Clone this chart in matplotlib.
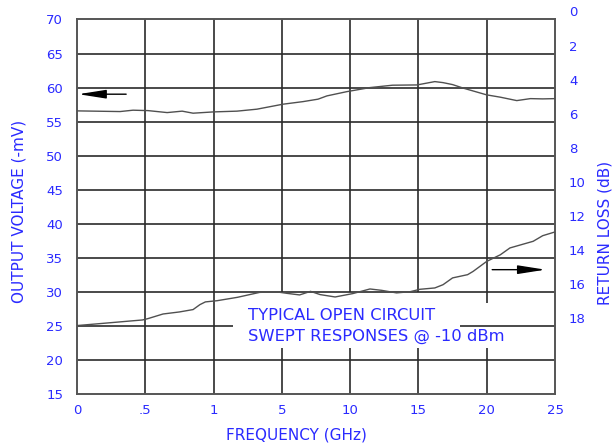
"""
Typical open circuit swept response: output voltage and return loss vs frequency.
Frequency axis is piecewise (0-1 GHz stretched), so a function scale maps GHz to slots.
"""
import numpy as np
import matplotlib.pyplot as plt

BLUE = "#2a2aff"
GRID = "#2b2b2b"
CURVE = "#505050"

# axis breakpoints (GHz) and their labels
freq_ticks = [0, 0.5, 1, 5, 10, 15, 20, 25]
freq_labels = ["0", ".5", "1", "5", "10", "15", "20", "25"]
volt_ticks = [15, 20, 25, 30, 35, 40, 45, 50, 55, 60, 65, 70]
rl_ticks = [0, 2, 4, 6, 8, 10, 12, 14, 16, 18]

# output voltage (-mV), left axis
volt_freq = [0, 0.315, 0.41, 0.52, 0.66, 0.77, 0.85, 1.0, 2.37, 3.54, 5.08, 6.55,
             7.65, 8.3, 9.77, 11.45, 13.1, 14.9, 16.2, 16.8, 17.5, 18.3, 20.0,
             21.0, 22.2, 23.2, 24.1, 25]
volt_mv = [56.58, 56.48, 56.68, 56.62, 56.33, 56.54, 56.24, 56.43, 56.54, 56.83,
           57.56, 57.94, 58.30, 58.78, 59.41, 60.00, 60.35, 60.39, 60.88, 60.73,
           60.44, 59.91, 58.93, 58.59, 58.09, 58.38, 58.34, 58.38]

# return loss (dB), right axis
rl_freq = [0, 0.19, 0.48, 0.52, 0.63, 0.75, 0.85, 0.90, 0.94, 1.2, 2.4, 3.7, 4.7,
           5.4, 6.3, 7.1, 7.8, 8.9, 10.2, 11.45, 12.3, 13.4, 14.4, 15.1, 16.2,
           16.8, 17.5, 18.6, 19.0, 20.0, 21.0, 21.7, 22.7, 23.4, 24.1, 25]
rl_db = [17.98, 17.85, 17.65, 17.57, 17.30, 17.18, 17.04, 16.75, 16.59, 16.52,
         16.32, 16.03, 16.00, 16.09, 16.18, 15.97, 16.16, 16.30, 16.10, 15.83,
         15.91, 16.06, 15.99, 15.85, 15.77, 15.58, 15.18, 14.99, 14.80, 14.21,
         13.82, 13.42, 13.19, 13.03, 12.70, 12.48]

slots = np.arange(len(freq_ticks))


def fwd(f):
    return np.interp(f, freq_ticks, slots)


def inv(p):
    return np.interp(p, slots, freq_ticks)


plt.rcParams["font.family"] = "DejaVu Sans"
fig = plt.figure(figsize=(6.13, 4.44), dpi=100)
ax = fig.add_axes([77 / 613, 50 / 444, 478 / 613, 374.5 / 444])
ax.set_xscale("function", functions=(fwd, inv))
ax.set_xlim(0, 25)
ax.set_ylim(15, 70)

# grid, with a gap behind the note text
box_lo, box_hi = 21.75, 29.95
for f in freq_ticks[1:-1]:
    if f in (5, 10, 15):
        ax.vlines(f, 15, box_lo, color=GRID, lw=1.2, zorder=1)
        ax.vlines(f, box_hi, 70, color=GRID, lw=1.2, zorder=1)
    elif f == 20:
        ax.vlines(f, 15, box_lo, color=GRID, lw=1.2, zorder=1)
        ax.vlines(f, 28.4, 70, color=GRID, lw=1.2, zorder=1)
    else:
        ax.vlines(f, 15, 70, color=GRID, lw=1.2, zorder=1)
for v in volt_ticks[1:-1]:
    if v == 25:
        ax.hlines(v, 0, 2.12, color=GRID, lw=1.2, zorder=1)
        ax.hlines(v, 18.05, 25, color=GRID, lw=1.2, zorder=1)
    else:
        ax.hlines(v, 0, 25, color=GRID, lw=1.2, zorder=1)

ax.plot(volt_freq, volt_mv, color=CURVE, lw=1.0, zorder=3)

ax.set_xticks(freq_ticks)
ax.set_xticklabels(freq_labels)
ax.set_yticks(volt_ticks)
ax.tick_params(axis="both", length=0, labelsize=9.5, colors=BLUE)
ax.tick_params(axis="y", pad=10)
ax.tick_params(axis="x", pad=7)
for s in ax.spines.values():
    s.set_color("#555555")
    s.set_linewidth(1.4)
ax.patch.set_alpha(0)

ax2 = ax.twinx()
ax2.set_ylim(22, 0)
ax2.plot(rl_freq, rl_db, color=CURVE, lw=1.0, zorder=3)
ax2.set_yticks(rl_ticks)
ax2.tick_params(axis="y", length=0, labelsize=9.5, colors=BLUE, pad=10)
for lbl in ax2.get_yticklabels():
    lbl.set_va("bottom")
for s in ax2.spines.values():
    s.set_visible(False)

# direction arrows
arrow = dict(arrowstyle="-|>,head_length=1.4,head_width=0.22", color="black",
             lw=1.0, shrinkA=0, shrinkB=0, mutation_scale=12)
ax.annotate("", xy=(0.01, 59.03), xytext=(0.36, 59.03), arrowprops=arrow, zorder=4)
ax.annotate("", xy=(24.3, 33.26), xytext=(20.4, 33.26), arrowprops=arrow, zorder=4)

ax.text(0.358, 0.209, "TYPICAL OPEN CIRCUIT", transform=ax.transAxes,
        color=BLUE, fontsize=11.8, ha="left", va="center")
ax.text(0.358, 0.155, "SWEPT RESPONSES @ -10 dBm", transform=ax.transAxes,
        color=BLUE, fontsize=11.8, ha="left", va="center")

fig.text(296 / 613, 1 - 435 / 444, "FREQUENCY (GHz)", color=BLUE, fontsize=11,
         ha="center", va="center")
fig.text(19 / 613, 1 - 211 / 444, "OUTPUT VOLTAGE (-mV)", color=BLUE, fontsize=11,
         ha="center", va="center", rotation=90)
fig.text(605 / 613, 1 - 233 / 444, "RETURN LOSS (dB)", color=BLUE, fontsize=11,
         ha="center", va="center", rotation=90)

fig.savefig("out.png", dpi=100)
